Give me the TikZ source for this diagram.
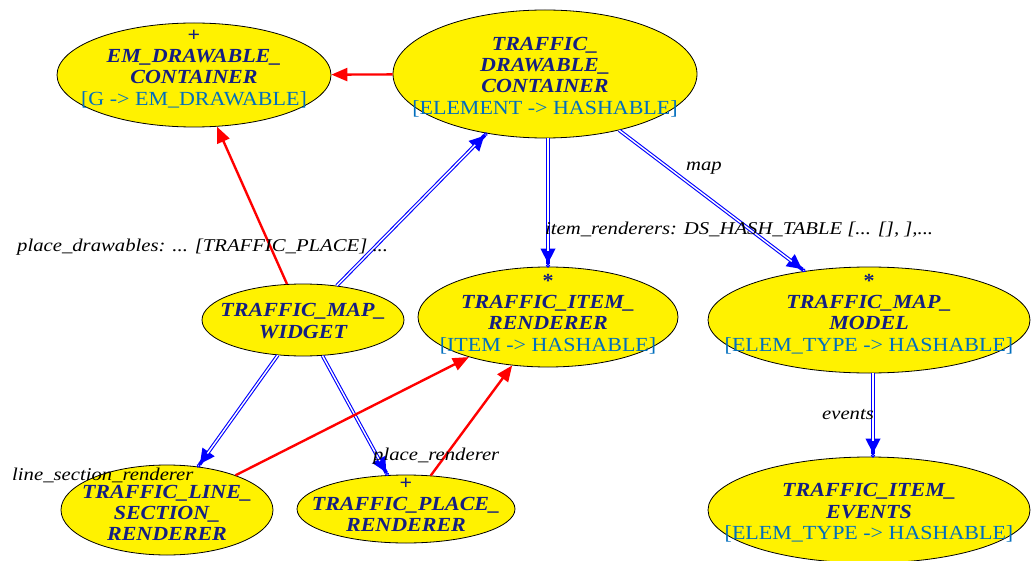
\documentclass[tikz,border=0pt]{standalone}
\usepackage{fontspec}
\setmainfont{Liberation Serif}
\usetikzlibrary{shapes.geometric,arrows.meta}
\definecolor{titleblue}{RGB}{20,30,130}
\definecolor{genblue}{RGB}{0,110,190}
\newfontfamily\wideserif[FakeStretch=1.1]{Liberation Serif}
\newfontfamily\labserif[FakeStretch=1.15]{Liberation Serif}
\newcommand{\tf}{\bfseries\itshape\color{titleblue}}
\newcommand{\tfp}{\bfseries\color{titleblue}}
\newcommand{\gf}{\mdseries\upshape\color{genblue}}
\begin{document}
\begin{tikzpicture}[x=1pt,y=-1pt,
  cls/.style={ellipse, draw=black, line width=0.8pt, fill=yellow, inner sep=0pt},
  txt/.style={inner sep=0pt, align=center, font=\wideserif\fontsize{20}{21.3}\selectfont},
  redarr/.style={draw=red, line width=2.4pt, -{Triangle[length=16pt,width=13pt]}},
  dblarr/.style={draw=blue, line width=3.6pt,
     -{Triangle[length=15pt,width=14pt] Circle[open, length=4pt, width=4pt, line width=1pt, sep=-1pt]},
     postaction={draw=white, line width=1.4pt, -, shorten >=16pt}},
  lab/.style={font=\labserif\fontsize{18}{20}\selectfont\itshape, inner sep=0pt, text=black}]
\useasboundingbox (0,0) rectangle (1032,561);
\fill[white] (0,0) rectangle (1032,561);

\node[cls, minimum width=274pt, minimum height=104pt] (em) at (194,75) {};
\node[txt] (emt) at (194,69)
  {{\tfp +}\\{\tf EM\_DRAWABLE\_}\\{\tf CONTAINER}\\{\gf [G -> EM\_DRAWABLE]}};
\node[cls, minimum width=304pt, minimum height=128pt] (dc) at (545,74) {};
\node[txt] (dct) at (545,77)
  {{\tf TRAFFIC\_}\\{\tf DRAWABLE\_}\\{\tf CONTAINER}\\{\gf [ELEMENT -> HASHABLE]}};
\node[cls, minimum width=202pt, minimum height=72pt] (wid) at (303,320) {};
\node[txt] (widt) at (303,321)
  {{\tf TRAFFIC\_MAP\_}\\{\tf WIDGET}};
\node[cls, minimum width=260pt, minimum height=100pt] (ir) at (548,317) {};
\node[txt] (irt) at (548,314)
  {{\tfp *}\\{\tf TRAFFIC\_ITEM\_}\\{\tf RENDERER}\\{\gf [ITEM -> HASHABLE]}};
\node[cls, minimum width=322pt, minimum height=106pt] (mm) at (869,320) {};
\node[txt] (mmt) at (869,314)
  {{\tfp *}\\{\tf TRAFFIC\_MAP\_}\\{\tf MODEL}\\{\gf [ELEM\_TYPE -> HASHABLE]}};
\node[cls, minimum width=322pt, minimum height=106pt] (ie) at (869,510) {};
\node[txt] (iet) at (869,513)
  {{\tf TRAFFIC\_ITEM\_}\\{\tf EVENTS}\\{\gf [ELEM\_TYPE -> HASHABLE]}};
\node[cls, minimum width=212pt, minimum height=90pt] (ls) at (167,510) {};
\node[txt] (lst) at (167,513)
  {{\tf TRAFFIC\_LINE\_}\\{\tf SECTION\_}\\{\tf RENDERER}};
\node[cls, minimum width=218pt, minimum height=68pt] (pr) at (406,509) {};
\node[txt] (prt) at (406,505)
  {{\tfp +}\\{\tf TRAFFIC\_PLACE\_}\\{\tf RENDERER}};

\draw[redarr] (dc) -- (em);
\draw[redarr] (wid) -- (em);
\draw[dblarr] (wid) -- (dc);
\draw[dblarr] (dc.south -| ir.north) -- (ir.north);
\draw[dblarr] (dc) -- (mm);
\draw[dblarr] (mm.south -| 873,0) -- (ie.north -| 873,0);
\draw[dblarr] (wid) -- (ls);
\draw[dblarr] (wid) -- (pr);
\draw[redarr] (ls) -- (ir);
\draw[redarr] (pr) -- (ir);

\node[lab, anchor=west] (lpd) at (17,247) {place\_drawables: ... [TRAFFIC\_PLACE] ...};
\node[lab, anchor=west] (lir) at (545,230) {item\_renderers: DS\_HASH\_TABLE [... [], ],...};
\node[lab] (lmap) at (704,168) {map};
\node[lab] (lev) at (848,415) {events};
\node[lab, anchor=west] (lls) at (12,475) {line\_section\_renderer};
\node[lab, anchor=west] (lpr) at (373,456) {place\_renderer};
\end{tikzpicture}
\end{document}
